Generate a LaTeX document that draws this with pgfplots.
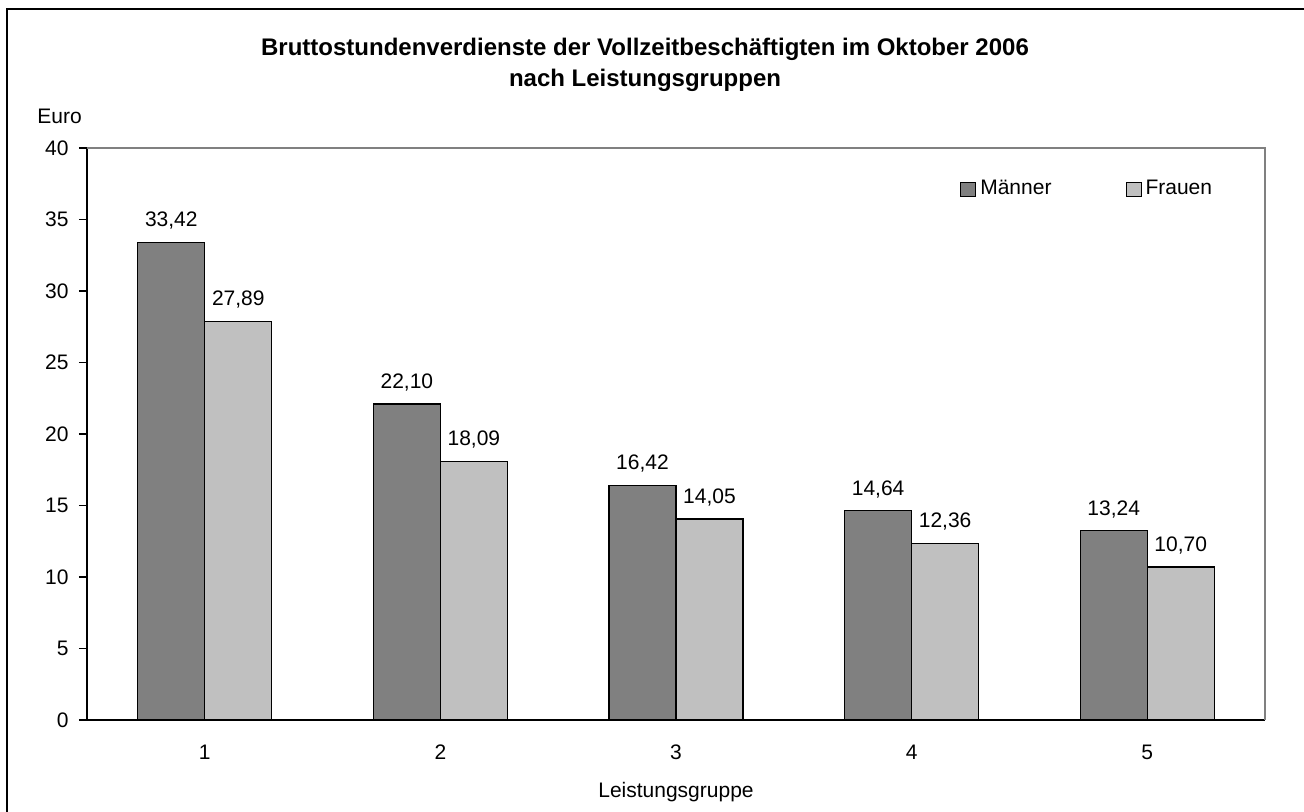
\documentclass[border=0pt]{standalone}
\usepackage{pgfplots}
\pgfplotsset{compat=1.18}
\usepackage{fontspec}
\setmainfont{Liberation Sans}
\definecolor{maenner}{HTML}{808080}
\definecolor{frauen}{HTML}{C0C0C0}
\pgfplotsset{mylegend/.style={legend image code/.code={\draw[##1,draw=black,line width=0.5pt] (0pt,-3.5pt) rectangle (7.5pt,3.5pt);}}}
\begin{document}
\fontsize{10.5}{12.6}\selectfont
\begin{tikzpicture}[x=1pt,y=1pt]
\useasboundingbox (-43.5,-45.5) rectangle (608.5,360);
\fill[white] (-43.5,-45.5) rectangle (608.5,360);
\draw[line width=1pt] (-40,-46) -- (-40,355.5) -- (609,355.5);
\begin{axis}[
  at={(0pt,0pt)}, anchor=south west,
  scale only axis, width=589pt, height=286pt,
  xmin=0.5, xmax=5.5, ymin=0, ymax=40,
  ybar=0pt, bar width=33.5pt,
  clip=false,
  font=\fontsize{10.5}{12.6}\selectfont,
  /pgf/number format/assume math mode=true,
  xtick={1,2,3,4,5},
  xtick style={draw=none},
  extra x ticks={0.5,1.5,2.5,3.5,4.5,5.5},
  extra x tick labels={},
  extra x tick style={tick style={draw=black, line width=0.6pt}},
  ytick={0,5,...,40},
  ytick style={draw=black, line width=0.6pt},
  tick align=outside, major tick length=4pt,
  axis x line*=bottom, axis y line*=left,
  axis line style={-, line width=0.7pt, black},
  yticklabel style={inner sep=0pt, xshift=-5pt},
  xticklabel style={inner sep=0pt, text height=7.6pt, text depth=0pt, anchor=north, yshift=-8pt},
  xlabel={Leistungsgruppe},
  xlabel style={at={(axis description cs:0.5,0)}, anchor=base, inner sep=0pt, yshift=-38.5pt},
  ylabel={Euro},
  ylabel style={rotate=-90, at={(axis description cs:0,1)}, anchor=base west, inner sep=0pt, xshift=-25pt, yshift=12.5pt},
  title={Bruttostundenverdienste der Vollzeitbeschäftigten im Oktober 2006\\nach Leistungsgruppen},
  title style={align=center, font=\bfseries\fontsize{12}{15.5}\selectfont, at={(axis description cs:0.4737,1.1722)}, anchor=north, inner sep=0pt},
  nodes near coords={\pgfmathprintnumber[fixed,fixed zerofill,precision=2,use comma,assume math mode=true]{\pgfplotspointmeta}},
  nodes near coords style={anchor=base, yshift=7.7pt, text=black, inner sep=0pt},
  legend columns=2,
  legend style={at={(axis description cs:0.741,0.928)}, anchor=west, draw=none, fill=none, inner sep=0pt,
    /tikz/every even column/.append style={column sep=35pt},
    nodes={inner ysep=1pt, inner xsep=2pt, anchor=west}},
]
\draw[color=maenner, line width=0.7pt] (axis cs:0.5,40) -- (axis cs:5.5,40) -- (axis cs:5.5,0);
\addplot[fill=maenner, draw=black, line width=0.6pt, mylegend]
  coordinates {(1,33.42) (2,22.10) (3,16.42) (4,14.64) (5,13.24)};
\addplot[fill=frauen, draw=black, line width=0.6pt, mylegend]
  coordinates {(1,27.89) (2,18.09) (3,14.05) (4,12.36) (5,10.70)};
\legend{Männer,Frauen}
\end{axis}
\end{tikzpicture}
\end{document}
